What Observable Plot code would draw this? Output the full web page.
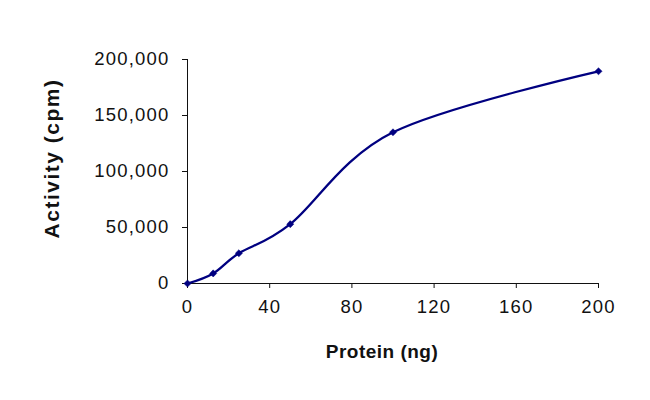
<!DOCTYPE html>
<html>
<head>
<meta charset="utf-8">
<script src="https://cdn.jsdelivr.net/npm/d3@7"></script>
<script src="https://cdn.jsdelivr.net/npm/@observablehq/plot@0.6"></script>
<style>
  html, body { margin: 0; padding: 0; background: #fff; }
  #chart svg { display: block; }
</style>
</head>
<body>
<div id="chart"></div>
<script>
// Data
const protein = [0, 12.5, 25, 50, 100, 200];          // ng
const activity = [0, 9000, 27000, 53000, 135000, 189500]; // cpm
const xTicks = [0, 40, 80, 120, 160, 200];
const yTicks = [0, 50000, 100000, 150000, 200000];
const xLabel = "Protein (ng)";
const yLabel = "Activity (cpm)";

const data = protein.map((p, i) => ({protein: p, activity: activity[i]}));
const navy = "#000080";
const ink = "#111";

const chart = Plot.plot({
  width: 650,
  height: 400,
  marginLeft: 187,
  marginRight: 52,
  marginTop: 59,
  marginBottom: 117,
  style: {fontFamily: "'Liberation Sans', Arial, sans-serif", background: "#fff", color: ink},
  x: {domain: [0, 200]},
  y: {domain: [0, 200000]},
  marks: [
    Plot.axisX({ticks: xTicks, tickSize: 5, tickPadding: 11, label: null, fontSize: 18, stroke: ink, fill: ink}),
    Plot.axisY({ticks: yTicks, tickFormat: d3.format(","), tickSize: 5, tickPadding: 13, label: null, fontSize: 18, stroke: ink, fill: ink}),
    Plot.ruleX([0], {stroke: ink, strokeWidth: 1}),
    Plot.ruleY([0], {stroke: ink, strokeWidth: 1}),
    Plot.line(data, {x: "protein", y: "activity", curve: "cardinal", stroke: navy, strokeWidth: 2.3}),
    Plot.dot(data, {x: "protein", y: "activity", symbol: "diamond2", r: 3.2, fill: navy, stroke: navy, strokeWidth: 0.5}),
    Plot.text([xLabel], {frameAnchor: "bottom", textAnchor: "middle", lineAnchor: "middle", dx: -11, dy: 68, fontSize: 19, fontWeight: "bold", fill: ink}),
    Plot.text([yLabel], {frameAnchor: "left", textAnchor: "middle", lineAnchor: "middle", rotate: -90, dx: -135, dy: -13, fontSize: 21, fontWeight: "bold", fill: ink})
  ]
});
const svg = d3.select(chart);
svg.selectAll('g[aria-label="x-axis tick label"] text, g[aria-label="y-axis tick label"] text')
  .style("font-size", "18.5px").style("letter-spacing", "1.2px");
svg.selectAll("text").filter(function() { return this.textContent === xLabel; })
  .style("font-size", "19px").style("letter-spacing", "0.5px");
svg.selectAll("text").filter(function() { return this.textContent === yLabel; })
  .style("font-size", "21px").style("letter-spacing", "1.5px");
document.getElementById("chart").append(chart);
</script>
</body>
</html>
